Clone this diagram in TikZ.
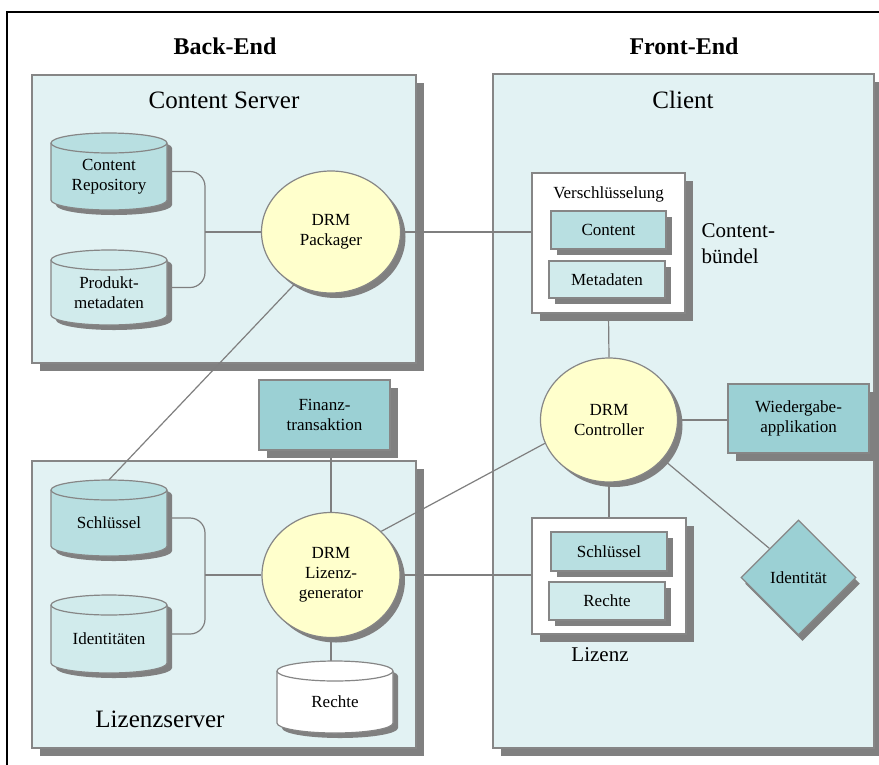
\documentclass[tikz,border=0pt]{standalone}
\usepackage{fontspec}
\setmainfont{Liberation Serif}
\usetikzlibrary{shapes.geometric,shadows,calc}

\definecolor{panelfill}{HTML}{E2F2F3}
\definecolor{tealdark}{HTML}{9BD0D4}
\definecolor{tealmid}{HTML}{B8DFE1}
\definecolor{teallight}{HTML}{D1EBEC}
\definecolor{drmyellow}{HTML}{FFFFCC}
\definecolor{shadowgray}{HTML}{808080}
\definecolor{bordergray}{HTML}{868686}
\definecolor{linegray}{HTML}{7F7F7F}

\newcommand\txtS{\fontsize{17}{20}\selectfont}
\newcommand\txtM{\fontsize{21}{26}\selectfont}
\newcommand\txtL{\fontsize{25}{30}\selectfont}
\newcommand\txtH{\fontsize{24}{28}\selectfont\bfseries}

\pgfdeclarelayer{background}
\pgfdeclarelayer{edges}
\pgfsetlayers{background,edges,main}

% database cylinder: name, centre x, top y, bottom y, fill, text
\newcommand\dbcyl[6]{%
  \fill[shadowgray, shift={(5,5)}] ({#2-58},{#3+10}) -- ({#2-58},{#4-10})
    arc[start angle=180,end angle=360,x radius=58pt,y radius=10pt]
    -- ({#2+58},{#3+10})
    arc[start angle=0,end angle=180,x radius=58pt,y radius=10pt] -- cycle;
  \filldraw[fill=#5, draw=bordergray, line width=1.2pt] ({#2-58},{#3+10}) -- ({#2-58},{#4-10})
    arc[start angle=180,end angle=360,x radius=58pt,y radius=10pt]
    -- ({#2+58},{#3+10})
    arc[start angle=0,end angle=180,x radius=58pt,y radius=10pt] -- cycle;
  \draw[bordergray, line width=1.2pt] ({#2-58},{#3+10})
    arc[start angle=180,end angle=360,x radius=58pt,y radius=10pt];
  \node[inner sep=0pt, minimum width=116pt, minimum height={#4-#3}] (#1) at (#2,{(#3+#4)/2}) {};
  \node[font=\txtS, align=center, inner sep=0pt] (#1-t) at (#2,{(#3+10+#4)/2}) {#6};
}

\tikzset{
  shadowed/.style={drop shadow={shadow xshift=#1, shadow yshift=-#1, opacity=1, fill=shadowgray, draw=none}},
  panel/.style={rectangle, draw=bordergray, fill=panelfill, line width=1.2pt, inner sep=0pt, shadowed=8pt},
  outerbox/.style={rectangle, draw=bordergray, fill=white, line width=1.2pt, inner sep=0pt, shadowed=8pt},
  itembox/.style={rectangle, draw=bordergray, line width=1.2pt, inner sep=0pt, font=\txtS, shadowed=6pt},
  tealbox/.style={rectangle, draw=bordergray, fill=tealdark, line width=1.2pt, inner sep=0pt, font=\txtS, align=center, shadowed=8pt},
  drm/.style={ellipse, draw=bordergray, fill=drmyellow, line width=1.2pt, inner sep=0pt, font=\txtS, align=center, shadowed=5pt},
  edge/.style={draw=linegray, line width=1.2pt},
}

\begin{document}
\begin{tikzpicture}[x=1pt,y=-1pt]
\useasboundingbox (0,0) rectangle (879,764);

% outer frame, running off the page to the right and bottom
\begin{pgfonlayer}{background}
\fill[white] (0,0) rectangle (879,764);
\draw[black, line width=1.5pt] (7,12) rectangle (905,790);

% server / client panels
\node[panel, minimum width=384pt, minimum height=288pt] (cs) at (224,219) {};
\node[panel, minimum width=381pt, minimum height=674pt] (cl) at (683.5,411) {};
\node[panel, minimum width=384pt, minimum height=287pt] (ls) at (224,604.5) {};
\end{pgfonlayer}

% headings
\node[font=\txtH] (bet) at (225,46) {Back-End};
\node[font=\txtH] (fet) at (684,46) {Front-End};
\node[font=\txtL] (cst) at (224,100) {Content Server};
\node[font=\txtL] (clt) at (683,100) {Client};
\node[font=\txtL] (lst) at (160,719) {Lizenzserver};

% databases
\dbcyl{cr}{109}{133}{210}{tealmid}{Content\\Repository}
\dbcyl{pm}{109}{250}{325}{teallight}{Produkt-\\metadaten}
\dbcyl{sk}{109}{480}{556}{tealmid}{Schlüssel}
\dbcyl{it}{109}{595}{673}{teallight}{Identitäten}
\dbcyl{rc}{335}{661}{733}{white}{Rechte}

% DRM components
\node[drm, minimum width=139pt, minimum height=122pt] (pack) at (331,232) {DRM\\Packager};
\node[drm, minimum width=137pt, minimum height=124pt] (ctrl) at (609,420) {DRM\\Controller};
\node[drm, minimum width=138pt, minimum height=125pt] (gen) at (331,575) {DRM\\Lizenz-\\generator};

% content bundle
\node[outerbox, minimum width=153pt, minimum height=140pt] (vs) at (608.5,243) {};
\node[font=\txtS] (vst) at (608.5,194) {Verschlüsselung};
\node[itembox, fill=tealmid, minimum width=115pt, minimum height=38pt] (ct) at (608.5,230) {Content};
\node[itembox, fill=teallight, minimum width=116pt, minimum height=37pt] (md) at (607,279.5) {Metadaten};
\node[font=\txtM, anchor=west, align=left] (cbl) at (698,244) {Content-\\bündel};

% licence
\node[outerbox, minimum width=154pt, minimum height=116pt] (lz) at (609,576) {};
\node[itembox, fill=tealmid, minimum width=116pt, minimum height=39pt] (sb) at (609,551.5) {Schlüssel};
\node[itembox, fill=teallight, minimum width=116pt, minimum height=38pt] (rb) at (607,601) {Rechte};
\node[font=\txtM] (lzt) at (600,655) {Lizenz};

% further components
\node[tealbox, minimum width=131pt, minimum height=70pt] (fin) at (324.5,415) {Finanz-\\transaktion};
\node[tealbox, minimum width=141pt, minimum height=69pt] (wa) at (798.5,418.5) {Wiedergabe-\\applikation};
\node[diamond, draw=bordergray, fill=tealdark, line width=1.2pt, inner sep=0pt,
      minimum width=115pt, minimum height=115pt, font=\txtS,
      drop shadow={shadow xshift=4pt, shadow yshift=-6pt, opacity=1, fill=shadowgray, draw=none}]
      (id) at (798.5,577.5) {Identität};

% connectors
\coordinate (jA) at (205,232);
\coordinate (jB) at (205,575);
\begin{pgfonlayer}{edges}
\draw[edge, rounded corners=15pt] (cr.east) -| (jA) |- (pm.east);
\draw[edge] (jA) -- (pack.west);
\draw[edge] (pack.east) -- (pack.east -| vs.west);
\draw[edge] (pack.235) -- (sk.north);
\draw[edge] (vs.south) -- (ctrl.north);
\draw[edge] (ctrl.east) -- (ctrl.east -| wa.west);
\draw[edge] (ctrl.-36) -- (id.north west);
\draw[edge] (ctrl.south) -- (lz.north);
\draw[edge] (gen.41) -- (ctrl.200);
\draw[edge] (gen.east) -- (gen.east -| lz.west);
\draw[edge] (fin.south -| gen.north) -- (gen.north);
\draw[edge] (gen.south) -- (gen.south |- rc.north);
\draw[edge, rounded corners=15pt] (sk.east) -| (jB) |- (it.east);
\draw[edge] (jB) -- (gen.west);
\end{pgfonlayer}
\end{tikzpicture}
\end{document}
